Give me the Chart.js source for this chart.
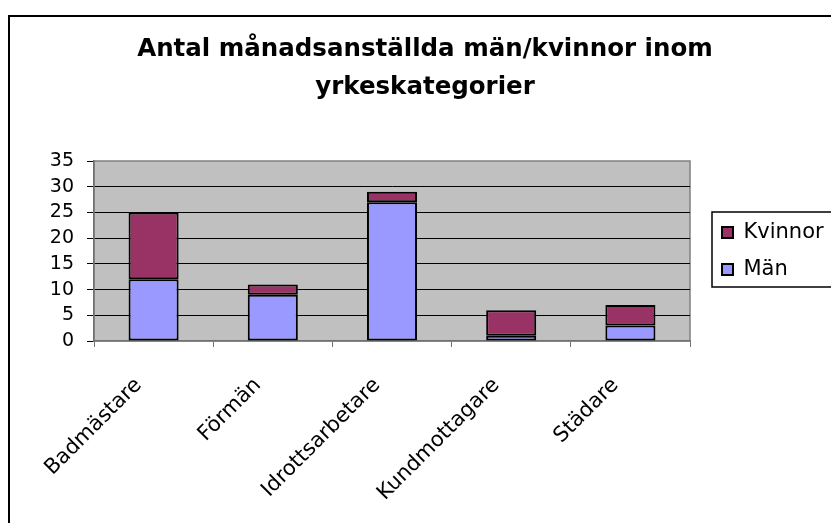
<html>
  <head>
    <meta charset="utf-8">
    <script src="https://cdn.jsdelivr.net/npm/chart.js@4.4.1/dist/chart.umd.min.js"></script>
    <style>
      body { margin: 0; background: #fff; }
    </style>
    <script>
      // yrkeskategorier och antal
      var categories = ['Badmästare', 'Förmän', 'Idrottsarbetare', 'Kundmottagare', 'Städare']
      var man = [12, 9, 27, 1, 3]
      var kvinnor = [13, 2, 2, 5, 4]
      var yMax = 35
      var yStep = 5
      var titleLines = ['Antal månadsanställda män/kvinnor inom', 'yrkeskategorier']

      var frames = {
        id: 'frames',
        beforeDraw: function (chart) {
          var ctx = chart.ctx
          var a = chart.chartArea
          ctx.save()
          // yttre ram
          ctx.strokeStyle = '#000'
          ctx.lineWidth = 2
          ctx.strokeRect(9, 16, 840, 520)
          // plotyta
          ctx.fillStyle = '#c0c0c0'
          ctx.fillRect(a.left, a.top, a.right - a.left, a.bottom - a.top)
          ctx.strokeStyle = '#808080'
          ctx.lineWidth = 1.5
          ctx.strokeRect(a.left, a.top, a.right - a.left, a.bottom - a.top)
          // legendram
          var hb = chart.legend.legendHitBoxes
          if (hb && hb.length) {
            ctx.strokeStyle = '#000'
            ctx.lineWidth = 1.5
            ctx.strokeRect(chart.legend.left + 6, hb[0].top - 10, 200, hb[hb.length - 1].top + hb[hb.length - 1].height - hb[0].top + 17)
          }
          ctx.restore()
        },
      }

      function init() {
        new Chart(document.getElementById('chart'), {
          type: 'bar',
          data: {
            labels: categories,
            datasets: [
              {
                label: 'Män',
                data: man,
                backgroundColor: '#9999ff',
                borderColor: '#000',
                borderWidth: 2,
                borderSkipped: false,
                categoryPercentage: 1,
                barPercentage: 0.42,
              },
              {
                label: 'Kvinnor',
                data: kvinnor,
                backgroundColor: '#993366',
                borderColor: '#000',
                borderWidth: 2,
                borderSkipped: false,
                categoryPercentage: 1,
                barPercentage: 0.42,
              },
            ],
          },
          options: {
            responsive: true,
            maintainAspectRatio: false,
            animation: false,
            layout: { padding: { left: 24, right: 5, top: 0, bottom: 0 } },
            font: { family: 'DejaVu Sans' },
            plugins: {
              title: {
                display: true,
                text: titleLines,
                color: '#000',
                font: { family: 'DejaVu Sans', size: 24.5, weight: 'bold', lineHeight: 38 / 24.5 },
                padding: { top: 31, bottom: 54 },
              },
              legend: {
                position: 'right',
                fullSize: false,
                maxWidth: 120,
                reverse: true,
                labels: {
                  color: '#000',
                  boxWidth: 11,
                  boxHeight: 11,
                  padding: 16,
                  font: { family: 'DejaVu Sans', size: 21 },
                },
              },
              tooltip: { enabled: false },
            },
            scales: {
              x: {
                stacked: true,
                grid: { drawOnChartArea: false, drawTicks: true, tickLength: 6, tickColor: '#707070' },
                border: { color: '#707070', width: 1.5 },
                ticks: {
                  color: '#000',
                  minRotation: 45,
                  maxRotation: 45,
                  padding: 26,
                  labelOffset: -15,
                  font: { family: 'DejaVu Sans', size: 21 },
                },
                afterFit: function (s) { s.height = 182 },
              },
              y: {
                stacked: true,
                min: 0,
                max: yMax,
                grid: {
                  color: function (c) { return c.tick.value === yMax || c.tick.value === 0 ? 'rgba(0,0,0,0)' : '#000' },
                  tickLength: 7,
                  tickColor: '#000',
                },
                border: { color: '#707070', width: 1.5 },
                ticks: {
                  stepSize: yStep,
                  autoSkip: false,
                  color: '#000',
                  padding: 13,
                  font: { family: 'DejaVu Sans', size: 19 },
                },
                afterFit: function (s) { s.width = 70 },
              },
              yR: {
                position: 'right',
                display: true,
                grid: { display: false },
                border: { display: false },
                ticks: { display: false },
                afterFit: function (s) { s.width = 16 },
              },
            },
          },
          plugins: [frames],
        })
      }
    </script>
  </head>
  <body onload="init()">
    <div style="width: 831px; height: 523px;">
      <canvas id="chart"></canvas>
    </div>
  </body>
</html>
